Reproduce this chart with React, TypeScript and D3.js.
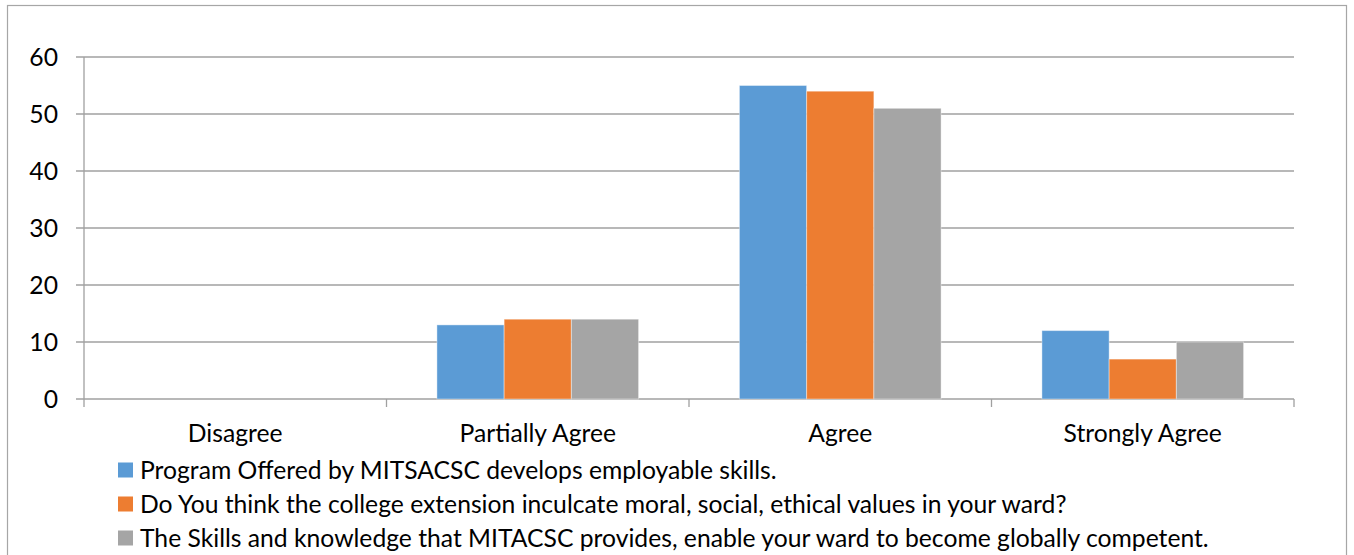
import React from 'react';
import * as d3 from 'd3';

const categories = ['Disagree', 'Partially Agree', 'Agree', 'Strongly Agree'];
const seriesNames = [
  'Program Offered by MITSACSC develops employable skills.',
  'Do You think the college extension inculcate moral, social, ethical values in your ward?',
  'The Skills and knowledge that MITACSC provides, enable your ward to become globally competent.',
];
const employable = [0, 13, 55, 12];
const values = [0, 14, 54, 7];
const competent = [0, 14, 51, 10];
const yTicks = [0, 10, 20, 30, 40, 50, 60];
const colors = ['#5B9BD5', '#ED7D31', '#A5A5A5'];

const App = () => {
  const width = 1354;
  const height = 555;
  const left = 84;
  const right = 1294;
  const top = 57;
  const bottom = 399;
  const font = 'Lato, "Open Sans", sans-serif';
  const fs = 24.7;

  const series = [employable, values, competent];

  const x = d3.scaleBand<string>().domain(categories).range([left, right]);
  // gap width 150% like Excel: 3 bars + 1.5 bar of gap per band
  const inner = d3
    .scaleBand<number>()
    .domain([0, 1, 2])
    .range([0, x.bandwidth()])
    .paddingOuter(0.75)
    .paddingInner(0);
  const y = d3.scaleLinear().domain([0, 60]).range([bottom, top]);

  return (
    <svg width={width} height={height} style={{ position: 'absolute', left: 0, top: 0 }}>
      <rect x={0} y={0} width={width} height={height} fill="#ffffff" />
      <rect x={7.5} y={5.5} width={1339} height={600} fill="none" stroke="#a6a6a6" strokeWidth={1.2} />

      {/* gridlines and y ticks */}
      {yTicks.map((t) => (
        <g key={t}>
          <line x1={left - 8} x2={right} y1={y(t)} y2={y(t)} stroke="#a0a0a0" strokeWidth={1.3} />
          <text
            x={left - 26}
            y={y(t)}
            dy="0.36em"
            textAnchor="end"
            fontFamily={font}
            fontSize={fs}
            fill="#000"
          >
            {t}
          </text>
        </g>
      ))}
      <line x1={left} x2={left} y1={top} y2={bottom + 8} stroke="#a0a0a0" strokeWidth={1.3} />
      {categories.map((c) => (
        <line
          key={c}
          x1={(x(c) as number) + x.bandwidth()}
          x2={(x(c) as number) + x.bandwidth()}
          y1={bottom}
          y2={bottom + 8}
          stroke="#a0a0a0"
          strokeWidth={1.3}
        />
      ))}

      {/* bars */}
      {categories.map((c, ci) =>
        series.map((s, si) =>
          s[ci] > 0 ? (
            <rect
              key={c + si}
              x={(x(c) as number) + (inner(si) as number)}
              y={y(s[ci])}
              width={inner.bandwidth()}
              height={bottom - y(s[ci])}
              fill={colors[si]}
              stroke="#ffffff"
              strokeOpacity={0.4}
              strokeWidth={1}
            />
          ) : null
        )
      )}

      {/* category labels */}
      {categories.map((c) => (
        <text
          key={c}
          x={(x(c) as number) + x.bandwidth() / 2}
          y={442}
          textAnchor="middle"
          fontFamily={font}
          fontSize={fs}
          fill="#000"
        >
          {c}
        </text>
      ))}

      {/* legend */}
      {seriesNames.map((n, i) => (
        <g key={n} transform={`translate(118, ${470 + i * 34})`}>
          <rect x={0} y={-7.5} width={15} height={15} fill={colors[i]} />
          <text x={22} y={0} dy="0.36em" fontFamily={font} fontSize={fs} fill="#000">
            {n}
          </text>
        </g>
      ))}
    </svg>
  );
};

export default App;
